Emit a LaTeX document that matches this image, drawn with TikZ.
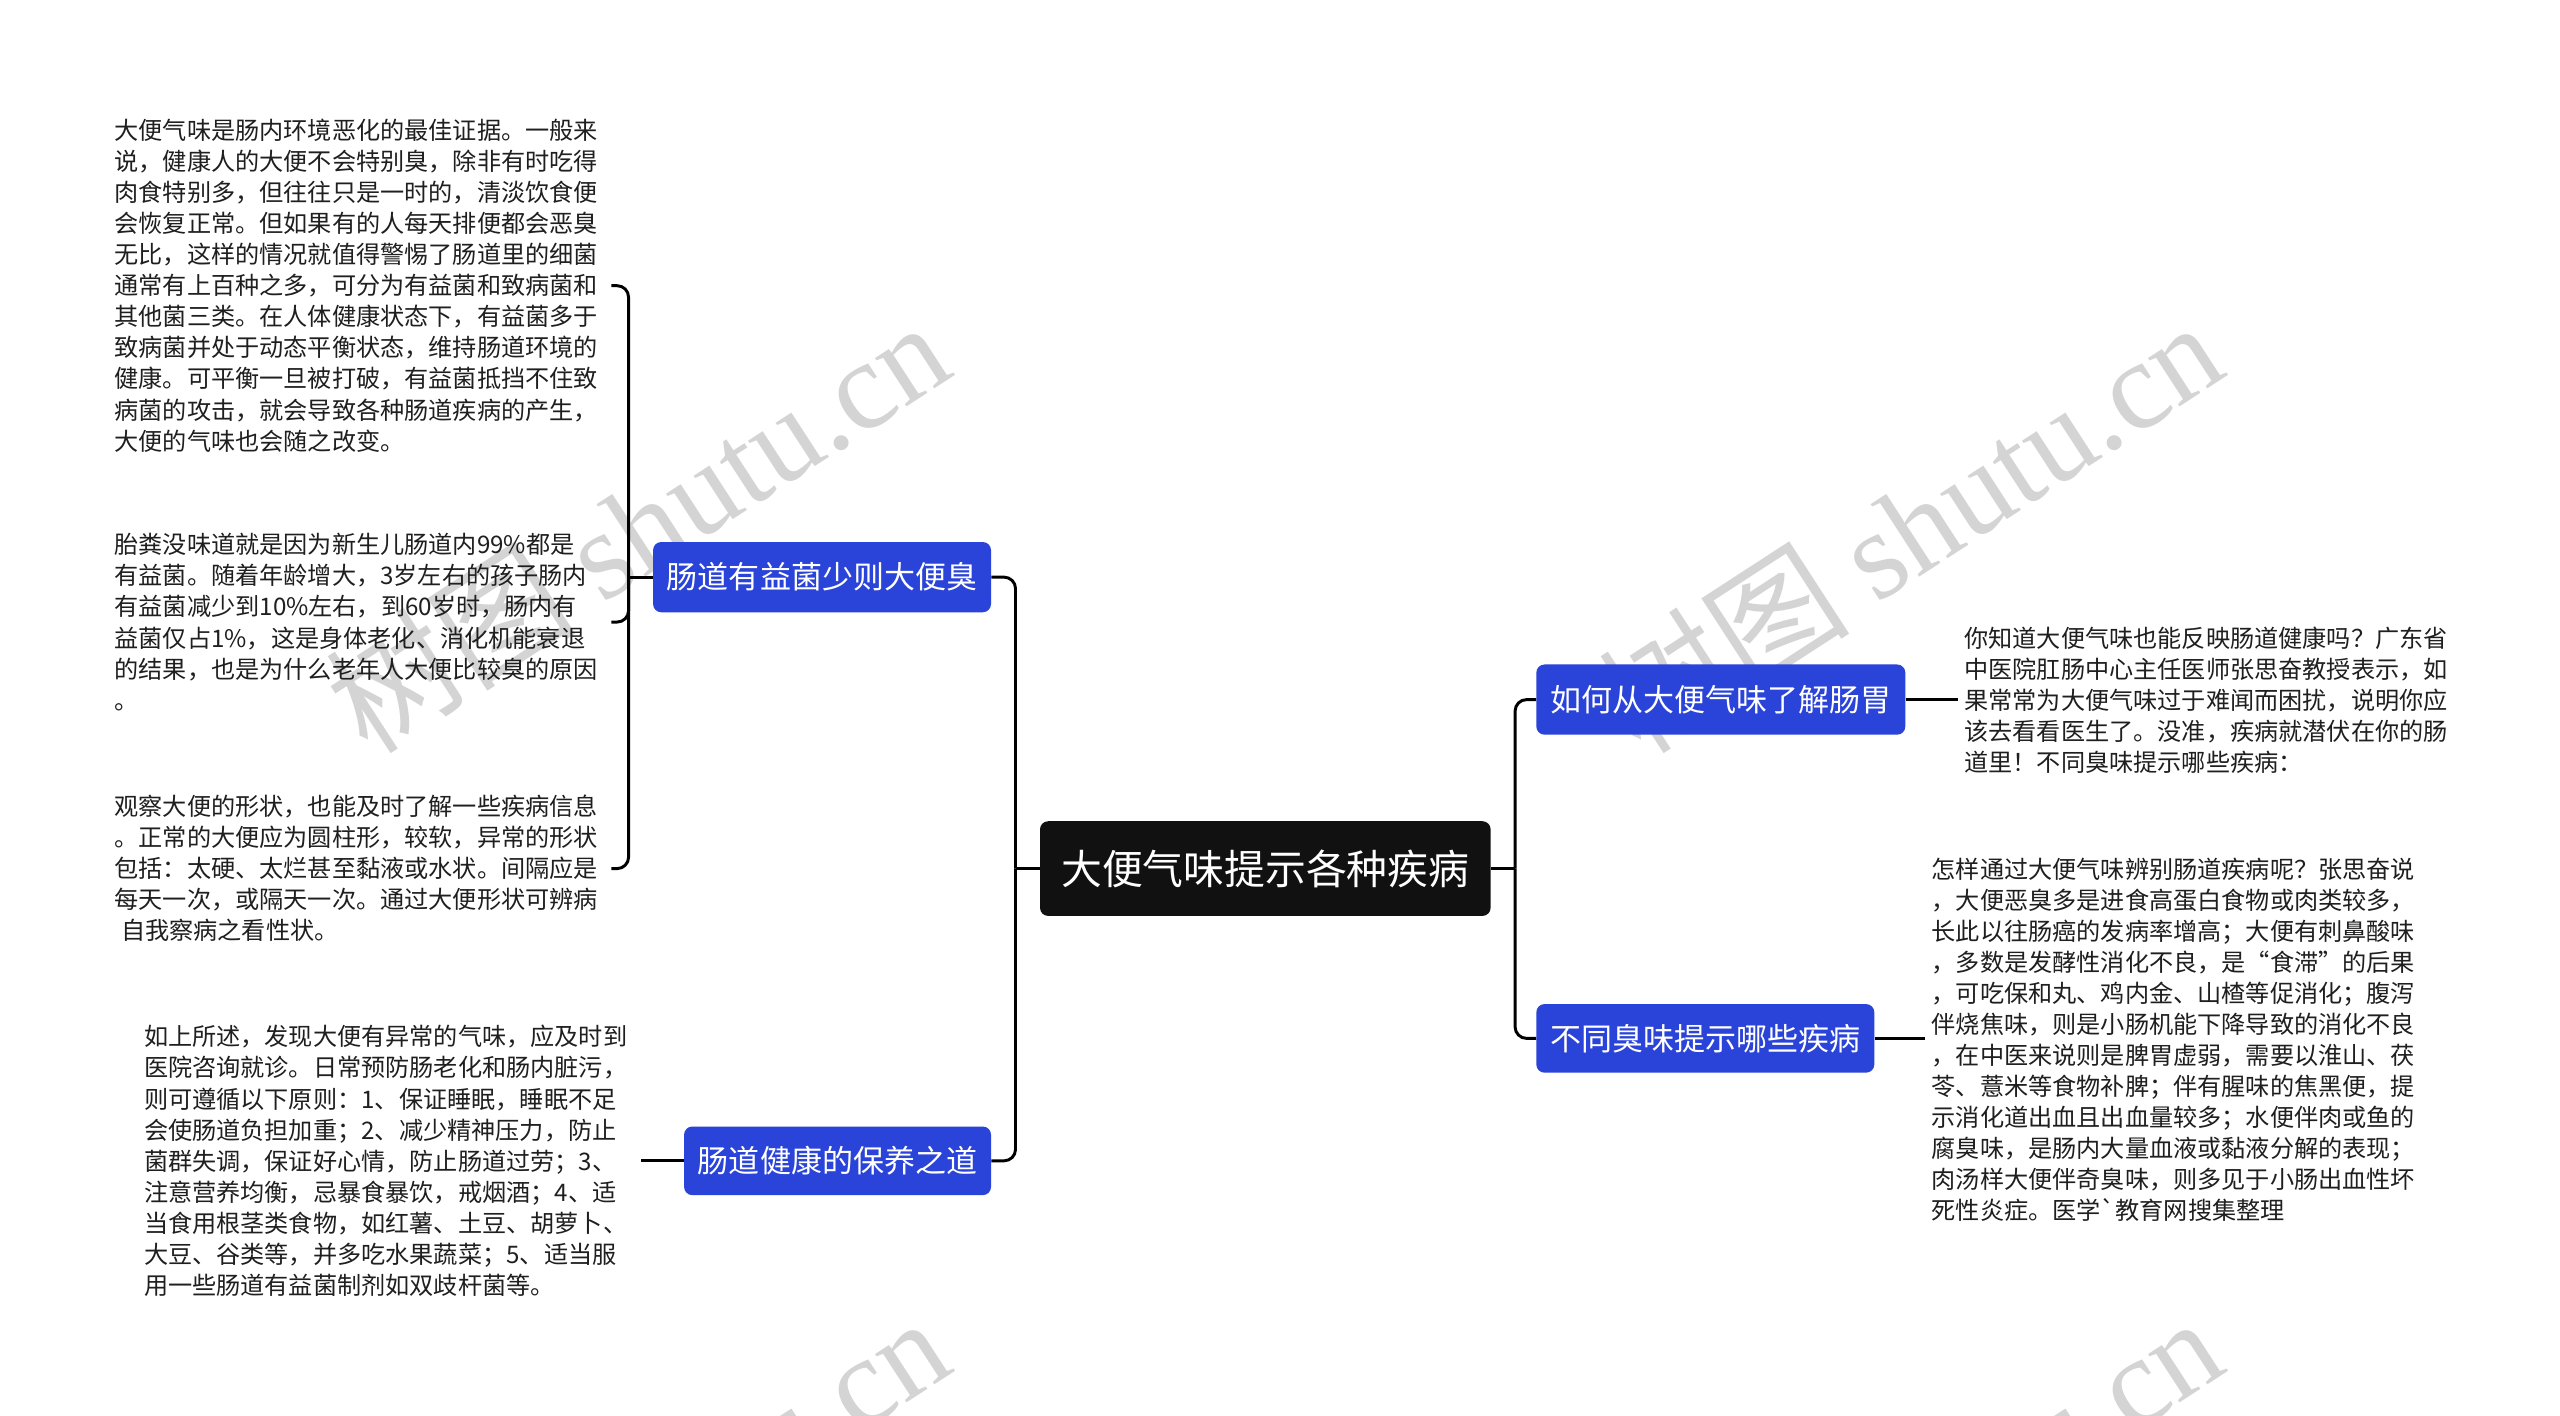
\documentclass[tikz,border=0pt]{standalone}
\usepackage{fontspec}
\setmainfont{Noto Sans CJK SC}
\newfontfamily\rawcjk[Ligatures=TeXOff]{Noto Sans CJK SC}
\newfontfamily\wmserif{Liberation Serif}
\definecolor{topicblue}{HTML}{2A43D8}
\definecolor{rootblack}{HTML}{111111}
\begin{document}
\begin{tikzpicture}[x=1pt,y=-1pt,
  conn/.style={line width=1.8pt, rounded corners=7pt, draw=black},
  topic/.style={fill=topicblue, text=white, rounded corners=5pt, inner sep=0pt, font=\fontsize{19}{22}\selectfont},
  rootbox/.style={fill=rootblack, text=white, rounded corners=5pt, inner sep=0pt, font=\fontsize{25}{28}\selectfont},
  leaf/.style={anchor=west, text width=300pt, align=left, inner sep=4pt, font=\fontsize{14.8}{19}\selectfont, text=black!88},
  wm/.style={text=black!17, rotate=33, inner sep=0pt, font=\fontsize{77}{77}\selectfont}]
\clip (0,0) rectangle (1568,867);
\useasboundingbox (0,0) rectangle (1568,867);
\fill[white] (0,0) rectangle (1568,867);
% watermarks
\node[wm] (wm1) at (1170,322) {树图 {\wmserif shutu.cn}};
\node[wm] (wm2) at (390,322) {树图 {\wmserif shutu.cn}};
\node[wm] (wm3) at (1170,932) {树图 {\wmserif shutu.cn}};
\node[wm] (wm4) at (390,932) {树图 {\wmserif shutu.cn}};
% main nodes
\node[rootbox, minimum width=276pt, minimum height=58pt] (root) at (775,532) {大便气味提示各种疾病};
\node[topic, minimum width=207pt, minimum height=43pt] (b1) at (503.5,353.5) {肠道有益菌少则大便臭};
\node[topic, minimum width=188pt, minimum height=42pt] (b2) at (513,711) {肠道健康的保养之道};
\node[topic, minimum width=226pt, minimum height=43pt] (b3) at (1054,428.5) {如何从大便气味了解肠胃};
\node[topic, minimum width=207pt, minimum height=42pt] (b4) at (1044.5,636) {不同臭味提示哪些疾病};
% leaves
\node[leaf] (l1) at (66,175) {大便气味是肠内环境恶化的最佳证据。一般来\\说，健康人的大便不会特别臭，除非有时吃得\\肉食特别多，但往往只是一时的，清淡饮食便\\会恢复正常。但如果有的人每天排便都会恶臭\\无比，这样的情况就值得警惕了肠道里的细菌\\通常有上百种之多，可分为有益菌和致病菌和\\其他菌三类。在人体健康状态下，有益菌多于\\致病菌并处于动态平衡状态，维持肠道环境的\\健康。可平衡一旦被打破，有益菌抵挡不住致\\病菌的攻击，就会导致各种肠道疾病的产生，\\大便的气味也会随之改变。};
\node[leaf] (l2) at (66,381) {胎粪没味道就是因为新生儿肠道内99\%都是\\有益菌。随着年龄增大，3岁左右的孩子肠内\\有益菌减少到10\%左右，到60岁时，肠内有\\益菌仅占1\%，这是身体老化、消化机能衰退\\的结果，也是为什么老年人大便比较臭的原因\\。};
\node[leaf] (l3) at (66,532) {观察大便的形状，也能及时了解一些疾病信息\\。正常的大便应为圆柱形，较软，异常的形状\\包括：太硬、太烂甚至黏液或水状。间隔应是\\每天一次，或隔天一次。通过大便形状可辨病\\\hspace*{4pt}自我察病之看性状。};
\node[leaf] (l4) at (84,711) {如上所述，发现大便有异常的气味，应及时到\\医院咨询就诊。日常预防肠老化和肠内脏污，\\则可遵循以下原则：1、保证睡眠，睡眠不足\\会使肠道负担加重；2、减少精神压力，防止\\菌群失调，保证好心情，防止肠道过劳；3、\\注意营养均衡，忌暴食暴饮，戒烟酒；4、适\\当食用根茎类食物，如红薯、土豆、胡萝卜、\\大豆、谷类等，并多吃水果蔬菜；5、适当服\\用一些肠道有益菌制剂如双歧杆菌等。};
\node[leaf] (l5) at (1199,429) {你知道大便气味也能反映肠道健康吗？广东省\\中医院肛肠中心主任医师张思奋教授表示，如\\果常常为大便气味过于难闻而困扰，说明你应\\该去看看医生了。没准，疾病就潜伏在你的肠\\道里！不同臭味提示哪些疾病：};
\node[leaf] (l6) at (1179,637) {怎样通过大便气味辨别肠道疾病呢？张思奋说\\，大便恶臭多是进食高蛋白食物或肉类较多，\\长此以往肠癌的发病率增高；大便有刺鼻酸味\\，多数是发酵性消化不良，是“食滞”的后果\\，可吃保和丸、鸡内金、山楂等促消化；腹泻\\伴烧焦味，则是小肠机能下降导致的消化不良\\，在中医来说则是脾胃虚弱，需要以淮山、茯\\苓、薏米等食物补脾；伴有腥味的焦黑便，提\\示消化道出血且出血量较多；水便伴肉或鱼的\\腐臭味，是肠内大量血液或黏液分解的表现；\\肉汤样大便伴奇臭味，则多见于小肠出血性坏\\死性炎症。医学{\rawcjk `}教育网搜集整理};
% connectors
\coordinate (jl) at (622,532);
\draw[conn] (root.west) -- (jl);
\draw[conn] (jl) |- (b1.east);
\draw[conn] (jl) |- (b2.east);
\coordinate (jr) at (928,532);
\draw[conn] (root.east) -- (jr);
\draw[conn] (jr) |- (b3.west);
\draw[conn] (jr) |- (b4.west);
\coordinate (j1) at (385,353.5);
\draw[conn] (b1.west) -- (j1);
\draw[conn] (j1) |- (l1.east);
\draw[conn] (j1) |- (l2.east);
\draw[conn] (j1) |- (l3.east);
\draw[conn] (b2.west) -- (b2.west -| l4.east);
\draw[conn] (b3.east) -- (b3.east -| l5.west);
\draw[conn] (b4.east) -- (b4.east -| l6.west);
\end{tikzpicture}
\end{document}
